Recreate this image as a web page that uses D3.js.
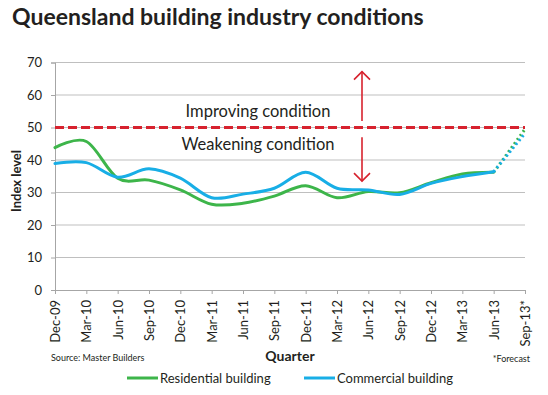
<!DOCTYPE html>
<html>
<head>
<meta charset="utf-8">
<script src="https://cdn.jsdelivr.net/npm/d3@7"></script>
<style>
  body { margin: 0; background: #fff; }
  text { font-family: Lato, "Open Sans", sans-serif; fill: #231f20; }
</style>
</head>
<body>
<svg width="548" height="395"></svg>
<script>
// Datos
const quarters = ["Dec-09", "Mar-10", "Jun-10", "Sep-10", "Dec-10", "Mar-11", "Jun-11", "Sep-11",
    "Dec-11", "Mar-12", "Jun-12", "Sep-12", "Dec-12", "Mar-13", "Jun-13", "Sep-13*"];
const residential = [43.8, 45.7, 34.4, 33.8, 30.8, 26.4, 26.7, 28.9, 32.1, 28.4, 30.3, 29.9, 33.0, 35.7, 36.2, 49.5];
const commercial = [38.9, 39.2, 34.7, 37.3, 34.4, 28.4, 29.5, 31.3, 36.2, 31.3, 30.8, 29.4, 32.8, 34.9, 36.4, 48.2];
const yTicks = [0, 10, 20, 30, 40, 50, 60, 70];
const threshold = 50;

const green = "#3db54a";
const blue = "#18aee6";
const red = "#d7222e";

const svg = d3.select("svg");

const x = d3.scalePoint().domain(quarters).range([55, 525]);
const y = d3.scaleLinear().domain([0, 70]).range([290, 62.5]);

// Título
svg.append("text")
    .attr("x", 12).attr("y", 25)
    .style("font-family", "Lato, sans-serif")
    .style("font-weight", "bold")
    .style("font-size", "23px")
    .text("Queensland building industry conditions");

// Líneas de la cuadrícula
svg.append("g")
    .selectAll("line")
    .data(yTicks.filter(d => d > 0))
    .enter().append("line")
    .attr("x1", 55).attr("x2", 525)
    .attr("y1", d => y(d)).attr("y2", d => y(d))
    .attr("stroke", "#bfbfbf").attr("stroke-width", 1);

// Eje Y
const yAxis = svg.append("g")
    .attr("transform", "translate(55,0)")
    .call(d3.axisLeft(y).tickValues(yTicks).tickSize(4).tickPadding(9));
yAxis.select(".domain").attr("stroke", "#a6a6a6");
yAxis.selectAll(".tick line").attr("stroke", "#a6a6a6");
yAxis.selectAll("text").style("font-size", "13px").style("font-family", "Lato, sans-serif").attr("fill", "#231f20");

// Eje X
const xAxis = svg.append("g")
    .attr("transform", "translate(0,290)")
    .call(d3.axisBottom(x).tickSize(4).tickSizeOuter(0));
xAxis.select(".domain").attr("stroke", "#a6a6a6");
xAxis.selectAll(".tick line").attr("stroke", "#a6a6a6");
xAxis.selectAll("text")
    .style("font-size", "13px")
    .attr("fill", "#231f20")
    .attr("text-anchor", "end")
    .attr("transform", "rotate(-90)")
    .attr("x", -10).attr("y", 0).attr("dy", "0.35em");

// Línea de umbral (50)
svg.append("line")
    .attr("x1", 55).attr("x2", 525)
    .attr("y1", y(threshold)).attr("y2", y(threshold))
    .attr("stroke", red).attr("stroke-width", 3)
    .attr("stroke-dasharray", "9,4");

// Flechas
const arrowX = 362;
function arrow(y1, y2) {
    const dir = y2 < y1 ? 1 : -1;
    const g = svg.append("g").attr("stroke", red).attr("stroke-width", 1.6).attr("fill", "none");
    g.append("line").attr("x1", arrowX).attr("x2", arrowX).attr("y1", y1).attr("y2", y2);
    g.append("path").attr("d", `M${arrowX - 8},${y2 + dir * 8}L${arrowX},${y2}L${arrowX + 8},${y2 + dir * 8}`);
}
arrow(y(52), y(67.2));
arrow(y(47), y(33.5));

svg.append("text")
    .attr("x", 258).attr("y", 117)
    .attr("text-anchor", "middle")
    .style("font-size", "16.5px")
    .text("Improving condition");
svg.append("text")
    .attr("x", 258).attr("y", 150)
    .attr("text-anchor", "middle")
    .style("font-size", "16.5px")
    .text("Weakening condition");

// Series
const line = d3.line()
    .x((d, i) => x(quarters[i]))
    .y(d => y(d))
    .curve(d3.curveCatmullRom.alpha(0));

function drawSeries(values, color) {
    const n = values.length;
    svg.append("path")
        .datum(values)
        .attr("fill", "none")
        .attr("stroke", color)
        .attr("stroke-width", 3)
        .attr("stroke-linecap", "round")
        .attr("d", line.defined((d, i) => i < n - 1));
    // Tramo de previsión punteado
    const forecast = d3.line()
        .x((d, i) => x(quarters[n - 2 + i]))
        .y(d => y(d))
        .curve(d3.curveMonotoneX);
    svg.append("path")
        .datum(values.slice(n - 2))
        .attr("fill", "none")
        .attr("stroke", color)
        .attr("stroke-width", 3)
        .attr("stroke-dasharray", "2,3")
        .attr("d", forecast);
}
drawSeries(residential, green);
drawSeries(commercial, blue);

// Títulos de ejes
svg.append("text")
    .attr("transform", "translate(21,181) rotate(-90)")
    .attr("text-anchor", "middle")
    .style("font-size", "13px")
    .style("font-weight", "bold")
    .text("Index level");

svg.append("text")
    .attr("x", 290).attr("y", 361)
    .attr("text-anchor", "middle")
    .style("font-size", "14px")
    .style("font-weight", "bold")
    .text("Quarter");

svg.append("text")
    .attr("x", 51).attr("y", 361)
    .style("font-size", "9px")
    .text("Source: Master Builders");

svg.append("text")
    .attr("x", 530).attr("y", 362)
    .attr("text-anchor", "end")
    .style("font-size", "9px")
    .text("*Forecast");

// Leyenda
const legend = [
    { name: "Residential building", color: green, x: 127 },
    { name: "Commercial building", color: blue, x: 304 }
];
const lg = svg.append("g").selectAll("g").data(legend).enter().append("g");
lg.append("line")
    .attr("x1", d => d.x).attr("x2", d => d.x + 31)
    .attr("y1", 378).attr("y2", 378)
    .attr("stroke", d => d.color).attr("stroke-width", 3);
lg.append("text")
    .attr("x", d => d.x + 33).attr("y", 383)
    .style("font-size", "13px")
    .text(d => d.name);
</script>
</body>
</html>
